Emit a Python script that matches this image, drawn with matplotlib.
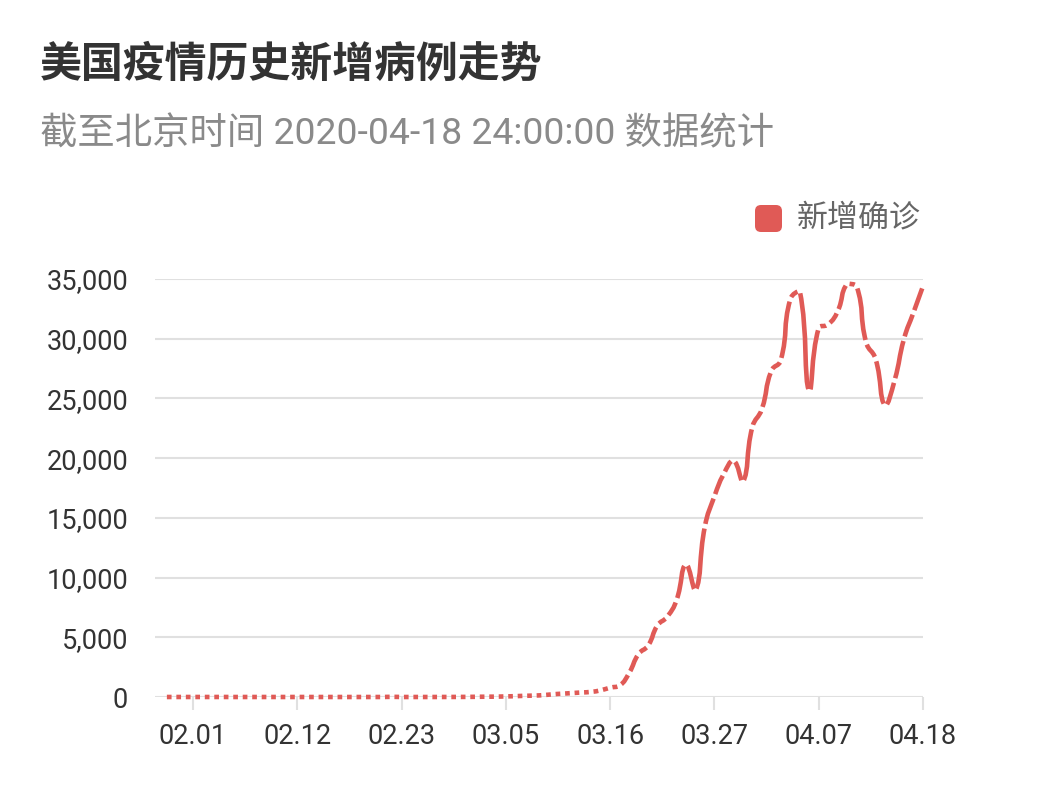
import numpy as np
import pandas as pd
import matplotlib
matplotlib.use("Agg")
import matplotlib.pyplot as plt
from matplotlib.path import Path
from matplotlib.patches import PathPatch, FancyBboxPatch

# ---- data ----
dates = pd.date_range("2020-01-29", "2020-04-18", freq="D")
day_labels = [d.strftime("%m.%d") for d in dates]
new_cases = [
    0, 1, 1, 1, 2, 0, 3, 0, 0, 1, 0, 1, 1, 0, 1, 0, 0, 0, 0, 0,
    0, 0, 0, 0, 14, 0, 0, 1, 0, 2, 3,
    6, 10, 18, 25, 30, 50, 70, 100, 120, 160,
    230, 280, 330, 380, 430, 560, 780, 950, 2000, 3600,
    4300, 6000, 6700, 8100, 11100, 8900, 14300, 16800, 18700, 19800,
    18000, 22600, 24100, 27300, 28200, 33300, 34000, 25600, 30900, 31200,
    32300, 34600, 34400, 29700, 28300, 24400, 26500, 30000, 32200, 34400,
]
y_ticks = [0, 5000, 10000, 15000, 20000, 25000, 30000, 35000]
first_tick, tick_step = 3, 11

title = "美国疫情历史新增病例走势"
subtitle = "截至北京时间 2020-04-18 24:00:00 数据统计"
legend_label = "新增确诊"

RED = "#e05a56"
GRID = "#e0e0e0"

plt.rcParams["font.family"] = ["Roboto", "Noto Sans CJK SC", "DejaVu Sans"]
plt.rcParams["lines.scale_dashes"] = False

W, H = 1049, 811
fig = plt.figure(figsize=(W / 100, H / 100), dpi=100)
ax = fig.add_axes([155 / W, (H - 697) / H, 768 / W, 418 / H])

n = len(new_cases)
xs = np.arange(n)
ax.set_xlim(-1, n - 1)
ax.set_ylim(0, 35000)
for s in ax.spines.values():
    s.set_visible(False)

ax.set_yticks(y_ticks)
ax.set_yticklabels([f"{v:,}" for v in y_ticks])
ax.yaxis.grid(True, color=GRID, lw=1.5, zorder=0)
ax.set_axisbelow(True)
tick_idx = list(range(first_tick, n, tick_step))
ax.set_xticks(tick_idx)
ax.set_xticklabels([day_labels[i] for i in tick_idx])
ax.tick_params(axis="x", length=9.4, width=1.5, color=GRID, labelsize=19.5,
               labelcolor="#333333", pad=9)
ax.tick_params(axis="y", length=0, labelsize=19.5, labelcolor="#333333", pad=19.4)

# smooth line (echarts-like control points), one dash per day segment
px = ax.transData.transform(np.column_stack([xs, new_cases]))
smooth = 0.5
cp_in, cp_out = px.copy(), px.copy()
for i in range(1, n - 1):
    prev, cur, nxt = px[i - 1], px[i], px[i + 1]
    v = nxt - prev
    lp, ln = np.hypot(*(cur - prev)), np.hypot(*(nxt - cur))
    r = ln / (lp + ln) if lp + ln > 0 else 0.5
    co = np.clip(cur + v * smooth * r, np.minimum(cur, nxt), np.maximum(cur, nxt))
    ci = np.clip(cur - v * smooth * (1 - r), np.minimum(prev, cur), np.maximum(prev, cur))
    cp_out[i], cp_in[i] = co, ci

inv = ax.transData.inverted()
pt = 72 / fig.dpi
gap = 4.8
t = np.linspace(0, 1, 25)[:, None]
codes = [Path.MOVETO, Path.CURVE4, Path.CURVE4, Path.CURVE4]
for i in range(n - 1):
    ctrl = np.array([px[i], cp_out[i], cp_in[i + 1], px[i + 1]])
    curve = ((1 - t) ** 3 * ctrl[0] + 3 * (1 - t) ** 2 * t * ctrl[1]
             + 3 * (1 - t) * t ** 2 * ctrl[2] + t ** 3 * ctrl[3])
    seg_len = np.hypot(*np.diff(curve, axis=0).T).sum()
    on = max(seg_len - gap, 0.8)
    ax.add_patch(PathPatch(Path(inv.transform(ctrl), codes), fill=False, edgecolor=RED,
                           lw=4.6 * pt, capstyle="butt", joinstyle="round",
                           linestyle=((on + gap / 2) * pt, (on * pt, gap * pt)),
                           clip_on=False, zorder=3))
ax.set_xlim(-1, n - 1)
ax.set_ylim(0, 35000)

# titles + legend
fig.text(40 / W, 1 - 65 / H, title, fontsize=30.2, fontweight="bold", color="#333333", va="center")
fig.text(40 / W, 1 - 134 / H, subtitle, fontsize=26.9, color="#8a8a8a", va="center")
fig.add_artist(FancyBboxPatch((7.55, (H - 232) / 100), 0.27, 0.27,
                              boxstyle="round,pad=0,rounding_size=0.06",
                              transform=fig.dpi_scale_trans, facecolor=RED, edgecolor="none"))
fig.text(797 / W, 1 - 218 / H, legend_label, fontsize=22.3, color="#666666", va="center")

fig.savefig("out.png", dpi=100, facecolor="white")
